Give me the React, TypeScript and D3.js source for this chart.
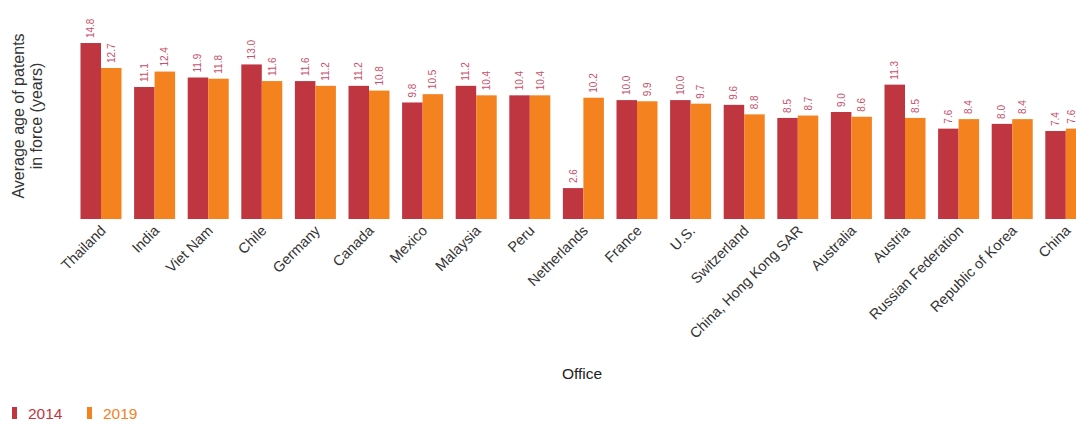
import React from "react";
import * as d3 from "d3";

const categories = [
  "Thailand", "India", "Viet Nam", "Chile", "Germany", "Canada", "Mexico", "Malaysia", "Peru",
  "Netherlands", "France", "U.S.", "Switzerland", "China, Hong Kong SAR", "Australia", "Austria",
  "Russian Federation", "Republic of Korea", "China",
];
const values2014 = [14.8, 11.1, 11.9, 13.0, 11.6, 11.2, 9.8, 11.2, 10.4, 2.6, 10.0, 10.0, 9.6, 8.5, 9.0, 11.3, 7.6, 8.0, 7.4];
const values2019 = [12.7, 12.4, 11.8, 11.6, 11.2, 10.8, 10.5, 10.4, 10.4, 10.2, 9.9, 9.7, 8.8, 8.7, 8.6, 8.5, 8.4, 8.4, 7.6];
const seriesNames = ["2014", "2019"];
const colors = ["#bf3641", "#f4821f"];
const labelColor = "#c7506a";

export default function App() {
  const W = 1076, H = 421;
  const step = 53.6;
  const x0 = 101 - step / 2;
  const x = d3.scaleBand<string>()
    .domain(categories)
    .range([x0, x0 + step * categories.length])
    .paddingInner(0.235)
    .paddingOuter(0.1175);
  const xs = d3.scaleBand<string>().domain(seriesNames).range([0, x.bandwidth()]);
  const base = 219;
  const y = d3.scaleLinear().domain([0, 15]).range([base, base - 15 * 11.89]);
  const series = [values2014, values2019];
  const font = "'Liberation Sans', Arial, sans-serif";

  return (
    <svg width={W} height={H} style={{ position: "absolute", left: 0, top: 0, fontFamily: font }}>
      {categories.map((c, i) => (
        <g key={c}>
          {series.map((vals, s) => {
            const bx = (x(c) as number) + (xs(seriesNames[s]) as number);
            const v = vals[i];
            return (
              <g key={s}>
                <rect x={bx} y={y(v)} width={xs.bandwidth()} height={base - y(v)} fill={colors[s]} />
                <text
                  transform={`translate(${Math.min(bx + xs.bandwidth() / 2, W - 5)},${y(v) - 5}) rotate(-90)`}
                  fontSize={10}
                  fill={labelColor}
                  dy="0.35em"
                  textAnchor="start"
                >
                  {v.toFixed(1)}
                </text>
              </g>
            );
          })}
          <text
            transform={`translate(${(x(c) as number) + x.bandwidth() / 2 + 2},${base + 9}) rotate(-45)`}
            fontSize={14.5}
            fill="#333"
            textAnchor="end"
            dy="0.35em"
          >
            {c}
          </text>
        </g>
      ))}
      <text transform="translate(28,116) rotate(-90)" fontSize={16} fill="#333" textAnchor="middle">
        <tspan x={0} dy={-4}>Average age of patents</tspan>
        <tspan x={0} dy={18}>in force (years)</tspan>
      </text>
      <text x={582} y={379} fontSize={15.5} fill="#222" textAnchor="middle">Office</text>
      {seriesNames.map((n, s) => (
        <g key={n} transform={`translate(${12 + s * 75},406)`}>
          <rect x={0} y={1} width={5} height={12} fill={colors[s]} />
          <text x={16} y={13} fontSize={15.5} fill={colors[s]}>{n}</text>
        </g>
      ))}
    </svg>
  );
}
